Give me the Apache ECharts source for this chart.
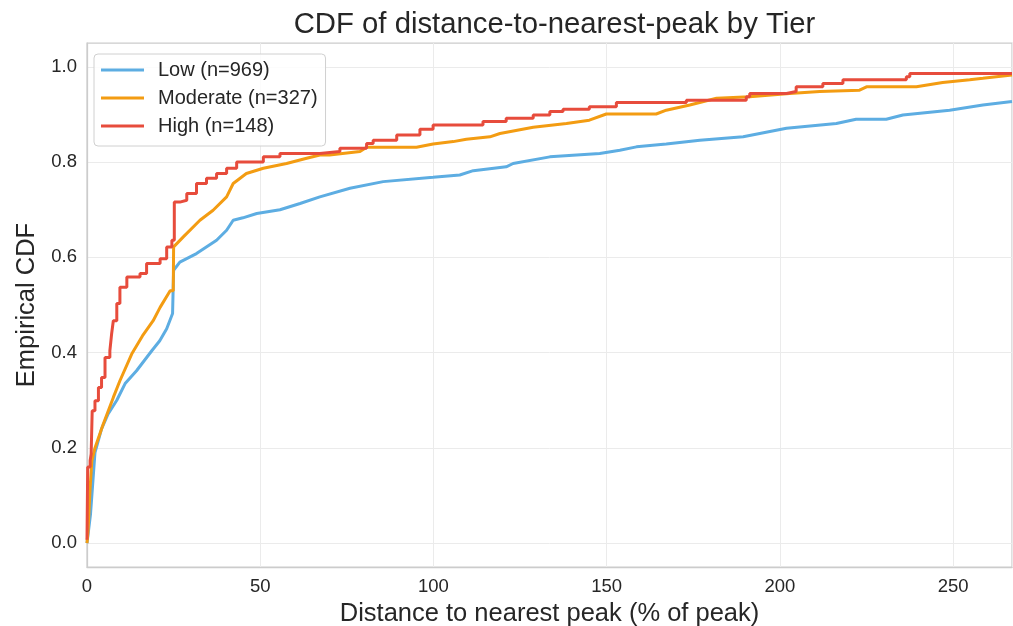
<!DOCTYPE html>
<html>
<head>
<meta charset="utf-8">
<script src="https://cdn.jsdelivr.net/npm/echarts@6/dist/echarts.min.js"></script>
<style>
html,body{margin:0;padding:0;background:#fff;}
#chart{width:1013px;height:626px;}
</style>
</head>
<body>
<div id="chart"></div>
<script>
// ---- Data ----
const tiers = ['Low', 'Moderate', 'High'];
const counts = [969, 327, 148];
const colors = ['#5DADE2', '#F39C12', '#E74C3C'];

const xTicks = [0, 50, 100, 150, 200, 250];
const yTicks = [0.0, 0.2, 0.4, 0.6, 0.8, 1.0];

const lowX = [0, 0.5, 1.0, 1.4, 2.3, 4.2, 6, 8.6, 11, 14.3, 18.7, 21, 23, 24.7, 25, 26.8, 31.6, 37.4, 40.3, 42.2, 45, 49, 55.7, 61.5, 67.2, 75.9, 85.5, 99.9, 107.6, 111.5, 121, 123, 133.6, 148, 153.8, 158.6, 167.2, 176.9, 189.4, 201.9, 216.3, 222, 230.7, 235.5, 249, 258.6, 267];
const lowY = [0, 0.03, 0.06, 0.10, 0.19, 0.24, 0.27, 0.30, 0.335, 0.362, 0.404, 0.425, 0.45, 0.482, 0.573, 0.59, 0.608, 0.636, 0.657, 0.678, 0.683, 0.692, 0.70, 0.713, 0.727, 0.745, 0.759, 0.768, 0.773, 0.782, 0.79, 0.797, 0.811, 0.818, 0.825, 0.832, 0.838, 0.846, 0.853, 0.871, 0.881, 0.89, 0.89, 0.899, 0.909, 0.92, 0.927];

const modX = [0, 0.3, 0.9, 1.4, 2.3, 4.7, 7.6, 9.5, 12.9, 16, 19.1, 21.1, 24, 24.9, 25.0, 27.8, 32.6, 36.4, 40.3, 42.2, 46, 50.9, 57.6, 63.4, 67.2, 70, 78.8, 80.7, 95.1, 99.9, 105.7, 109.5, 116.3, 119.2, 128.8, 138.4, 145, 149.9, 164.3, 167.2, 174, 181.7, 191.3, 202.8, 211.5, 223, 225, 239.4, 247, 254.8, 258.6, 267];
const modY = [0, 0.025, 0.116, 0.173, 0.2, 0.25, 0.306, 0.341, 0.397, 0.435, 0.467, 0.495, 0.53, 0.53, 0.622, 0.643, 0.678, 0.699, 0.727, 0.755, 0.776, 0.787, 0.797, 0.808, 0.815, 0.815, 0.822, 0.831, 0.831, 0.838, 0.843, 0.848, 0.853, 0.86, 0.873, 0.881, 0.888, 0.901, 0.901, 0.909, 0.92, 0.934, 0.937, 0.944, 0.948, 0.951, 0.958, 0.958, 0.967, 0.973, 0.976, 0.983];

const highX = [0, 0.2, 0.9, 1.2, 1.5, 2.3, 3.3, 4.2, 5.2, 6.6, 7.1, 7.6, 8.6, 9.5, 11.5, 15.3, 17.2, 21.1, 23, 24.5, 25.2, 26.8, 28.8, 31.6, 34.5, 37.4, 40.3, 43.2, 50.9, 55.7, 67.2, 73, 80.7, 82.6, 89.4, 96.1, 99.9, 114.3, 121, 128.8, 133.6, 137.4, 145, 152.8, 173, 190.3, 191.3, 201.9, 204.7, 212.4, 218.2, 236.5, 237.5, 267];
const highY = [0.007, 0.16, 0.173, 0.187, 0.278, 0.299, 0.327, 0.348, 0.39, 0.404, 0.439, 0.467, 0.503, 0.537, 0.559, 0.566, 0.587, 0.597, 0.622, 0.636, 0.716, 0.72, 0.734, 0.755, 0.766, 0.776, 0.787, 0.80, 0.811, 0.818, 0.822, 0.829, 0.839, 0.846, 0.857, 0.869, 0.878, 0.885, 0.892, 0.899, 0.906, 0.911, 0.916, 0.925, 0.93, 0.937, 0.944, 0.948, 0.958, 0.965, 0.973, 0.979, 0.986, 0.986];

// ---- Build ----
const FONT = '"Liberation Sans", Arial, sans-serif';
const TXT = '#262626';
const zip = (xs, ys) => xs.map((x, i) => [x, ys[i]]);
const seriesData = [zip(lowX, lowY), zip(modX, modY), zip(highX, highY)];
const steps = [false, false, 'end'];
const names = tiers.map((t, i) => t + ' (n=' + counts[i] + ')');

const chart = echarts.init(document.getElementById('chart'), null, {renderer: 'canvas'});

const series = [{
  name: '__grid',
  type: 'line',
  data: [],
  silent: true,
  z: 0,
  markLine: {
    silent: true,
    z: 0,
    symbol: 'none',
    label: {show: false},
    animation: false,
    lineStyle: {color: '#ebebeb', width: 1, type: 'solid'},
    data: yTicks.map(v => ({yAxis: v}))
  }
}];
names.forEach((n, i) => {
  series.push({
    name: n,
    type: 'line',
    step: steps[i],
    data: seriesData[i],
    showSymbol: false,
    symbol: 'none',
    z: 2 + i * 0.5,
    lineStyle: {color: colors[i], width: 3},
    itemStyle: {color: colors[i]}
  });
});

const isTick = (v, ticks) => ticks.some(t => Math.abs(t - v) < 1e-6);

chart.setOption({
  animation: false,
  backgroundColor: '#ffffff',
  title: {
    text: 'CDF of distance-to-nearest-peak by Tier',
    left: 549.5,
    textAlign: 'center',
    top: 5,
    textStyle: {fontFamily: FONT, fontSize: 29.3, fontWeight: 'normal', color: TXT}
  },
  legend: {
    data: names,
    z: 10,
    orient: 'vertical',
    left: 94,
    top: 54,
    padding: [6, 8, 10, 7],
    itemGap: 8,
    itemWidth: 43,
    itemHeight: 3,
    icon: 'rect',
    backgroundColor: 'rgba(255,255,255,0.85)',
    borderColor: '#d0d0d0',
    borderWidth: 1,
    borderRadius: 4,
    textStyle: {fontFamily: FONT, fontSize: 20, color: TXT, lineHeight: 20, padding: [0, 0, 0, 9]}
  },
  grid: {
    left: 87, right: 1, top: 43, bottom: 59,
    outerBoundsMode: 'none',
    containLabel: false,
    show: true,
    borderColor: '#cccccc',
    borderWidth: 1.25,
    backgroundColor: 'transparent'
  },
  xAxis: {
    type: 'value',
    min: 0,
    max: 267,
    interval: 50,
    name: 'Distance to nearest peak (% of peak)',
    nameLocation: 'middle',
    nameGap: 26,
    nameTextStyle: {fontFamily: FONT, fontSize: 25.5, color: TXT},
    axisLine: {show: true, onZero: false, lineStyle: {color: '#cccccc', width: 1.25}},
    axisTick: {show: false},
    axisLabel: {
      fontFamily: FONT, fontSize: 18.5, color: TXT, margin: 10,
      formatter: v => isTick(v, xTicks) ? String(Math.round(v)) : ''
    },
    splitLine: {show: true, lineStyle: {color: '#ebebeb', width: 1}}
  },
  yAxis: {
    type: 'value',
    min: -0.05,
    max: 1.05,
    interval: 0.05,
    name: 'Empirical CDF',
    nameLocation: 'middle',
    nameGap: 47,
    nameRotate: 90,
    nameTextStyle: {fontFamily: FONT, fontSize: 25.5, color: TXT},
    axisLine: {show: true, onZero: false, lineStyle: {color: '#cccccc', width: 1.25}},
    axisTick: {show: false},
    axisLabel: {
      fontFamily: FONT, fontSize: 18.5, color: TXT, margin: 10,
      formatter: v => isTick(v, yTicks) ? v.toFixed(1) : ''
    },
    splitLine: {show: false}
  },
  series: series
});
</script>
</body>
</html>
